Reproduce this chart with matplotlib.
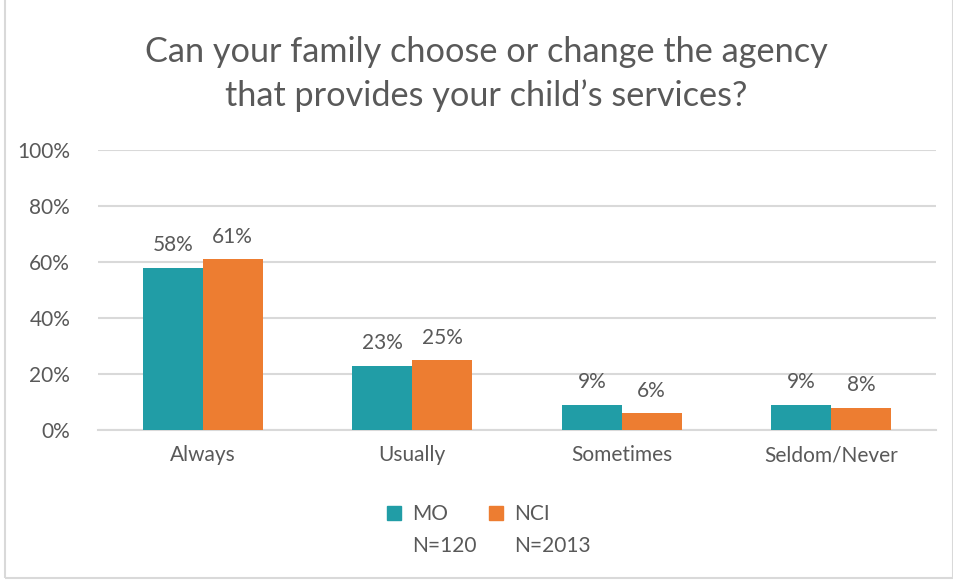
import numpy as np
import matplotlib
matplotlib.use('Agg')
import matplotlib.pyplot as plt
from matplotlib.patches import Rectangle, Patch

categories = ['Always', 'Usually', 'Sometimes', 'Seldom/Never']
mo = [0.58, 0.23, 0.09, 0.09]
nci = [0.61, 0.25, 0.06, 0.08]
series_names = ['MO', 'NCI']
series_n = ['N=120', 'N=2013']
yticks = [0, 0.2, 0.4, 0.6, 0.8, 1.0]

TEAL = '#219da6'
ORANGE = '#ed7d31'
TXT = '#595959'
GRID = '#d9d9d9'

plt.rcParams['font.family'] = ['Lato', 'DejaVu Sans']


def main():
    fig = plt.figure(figsize=(9.54, 5.81), dpi=100)
    ax = fig.add_axes([98 / 954, 1 - 430 / 581, 838 / 954, 280 / 581])

    x = np.arange(len(categories))
    w = 0.286
    b1 = ax.bar(x - w / 2, mo, w, color=TEAL, zorder=3)
    b2 = ax.bar(x + w / 2, nci, w, color=ORANGE, zorder=3)
    for bars, vals in ((b1, mo), (b2, nci)):
        for r, v in zip(bars, vals):
            ax.annotate('%d%%' % round(v * 100), (r.get_x() + r.get_width() / 2, v),
                        xytext=(0, 9), textcoords='offset points',
                        ha='center', va='bottom', fontsize=15, color=TXT)

    ax.set_xlim(-0.5, len(categories) - 0.5)
    ax.set_ylim(0, 1.0)
    ax.set_yticks(yticks)
    ax.set_yticklabels(['%d%%' % round(t * 100) for t in yticks])
    ax.set_xticks(x)
    ax.set_xticklabels(categories)
    ax.tick_params(length=0, labelsize=15, labelcolor=TXT)
    ax.tick_params(axis='y', pad=20)
    ax.tick_params(axis='x', pad=11)
    ax.grid(axis='y', color=GRID, linewidth=1.5, zorder=0)
    for s in ['top', 'right', 'left']:
        ax.spines[s].set_visible(False)
    ax.spines['bottom'].set_color(GRID)
    ax.spines['bottom'].set_linewidth(1.5)

    fig.suptitle('Can your family choose or change the agency\nthat provides your child\u2019s services?',
                 x=0.51, y=1 - 36 / 581, fontsize=24.7, color=TXT, linespacing=1.42)

    handles = [Patch(color=TEAL), Patch(color='none'), Patch(color=ORANGE), Patch(color='none')]
    labels = [series_names[0], series_n[0], series_names[1], series_n[1]]
    fig.legend(handles, labels, ncol=2, loc='center', bbox_to_anchor=(0.512, 1 - 530 / 581),
               frameon=False, fontsize=15, labelcolor=TXT, handlelength=0.7, handleheight=0.7,
               handletextpad=0.5, columnspacing=0.6, labelspacing=0.55)

    fig.patches.append(Rectangle((5 / 954, 3 / 581), 948 / 954, 580 / 581, transform=fig.transFigure,
                                 fill=False, edgecolor=GRID, linewidth=1.5))

    fig.savefig('out.png', dpi=100)


if __name__ == '__main__':
    main()
